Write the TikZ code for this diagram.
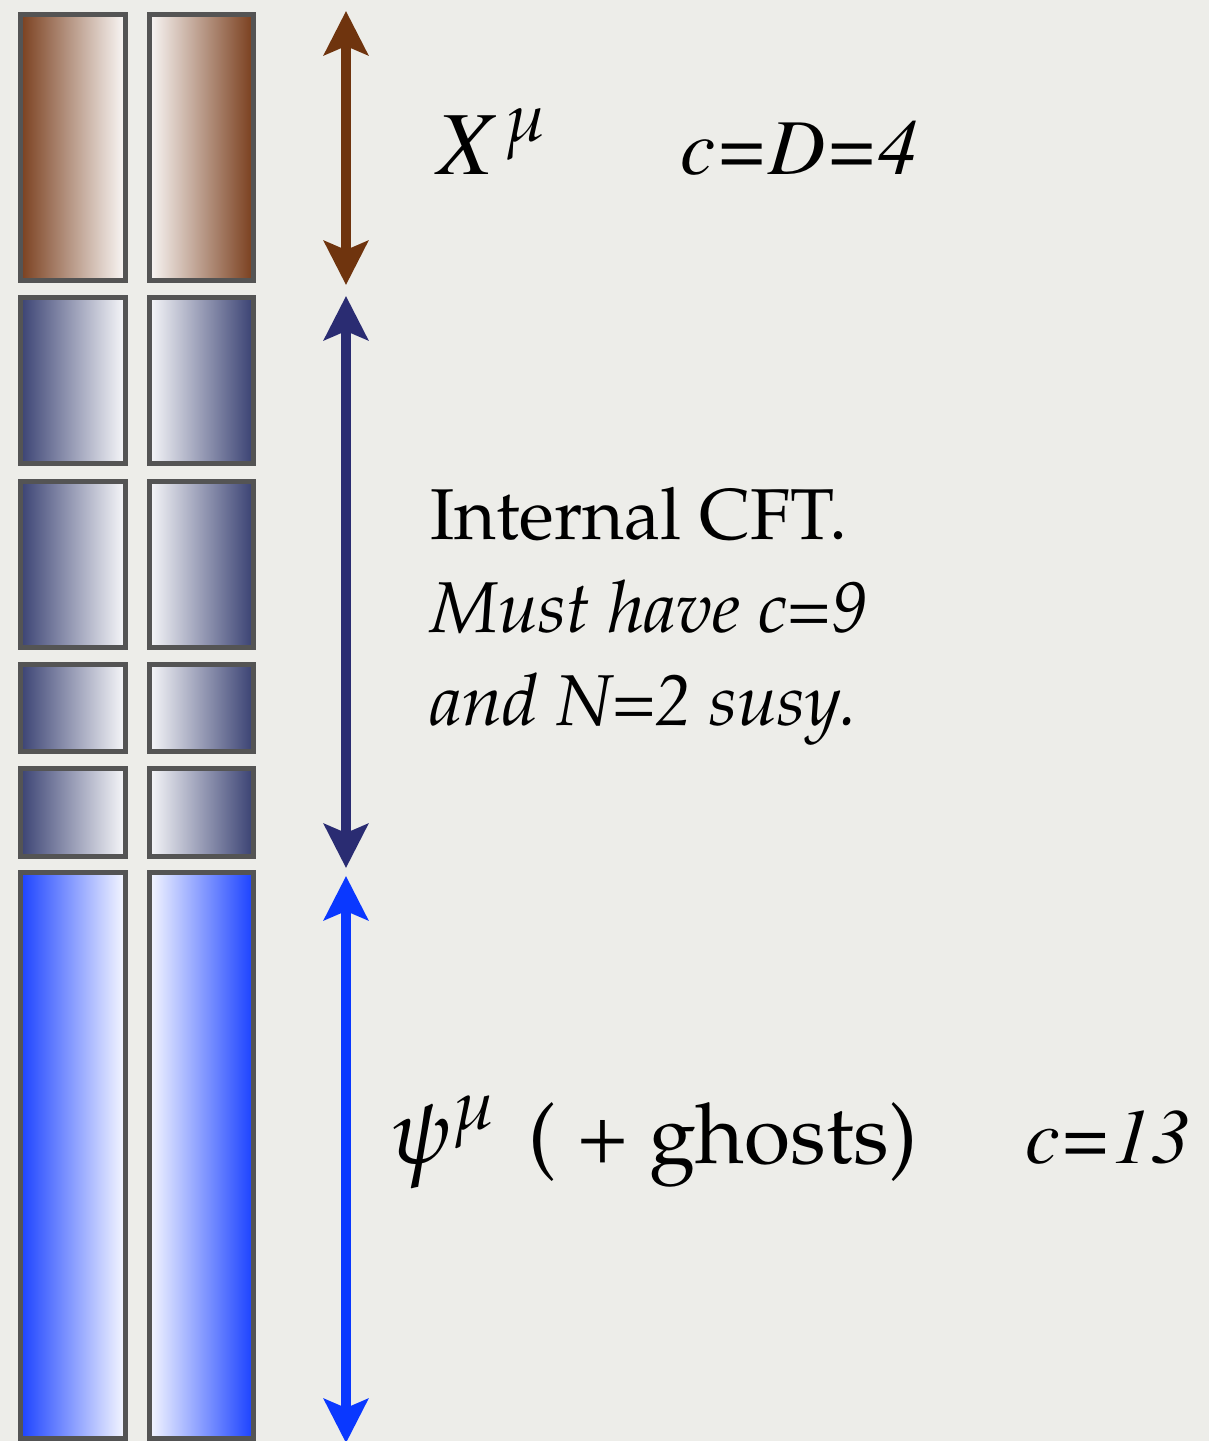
\documentclass[tikz,border=0pt]{standalone}
\usepackage[T1]{fontenc}
\usepackage{mathpazo}
\usepackage{xcolor}
\usepackage{tikz}
\usetikzlibrary{arrows.meta,positioning,calc}
\definecolor{cftpaper}{HTML}{EDEDE9}
\definecolor{cftframe}{HTML}{545454}
\definecolor{cftbrown}{HTML}{7A3F1E}
\definecolor{cftnavy}{HTML}{3A4273}
\definecolor{cftblue}{HTML}{1B42FF}
\definecolor{cftarrbrown}{HTML}{6F340E}
\definecolor{cftarrnavy}{HTML}{2A2C72}
\definecolor{cftarrblue}{HTML}{0A38FF}
\newcommand{\timesit}{\fontfamily{ptm}\itshape}
\tikzset{
  cftcellL/.style={draw=cftframe,line width=5pt,inner sep=0pt,minimum width=105pt,left color=#1,right color=#1!4!white},
  cftcellR/.style={draw=cftframe,line width=5pt,inner sep=0pt,minimum width=104pt,left color=#1!4!white,right color=#1},
  cftspan/.style={{Stealth[length=44pt,width=44pt,inset=9pt]}-{Stealth[length=44pt,width=44pt,inset=9pt]},line width=10pt,draw=#1},
  cfttext/.style={anchor=base west,inner sep=0pt,text=black}
}

\begin{document}
\begin{tikzpicture}[x=1pt,y=-1pt]
\fill[cftpaper] (0,0) rectangle (1209,1441);
\useasboundingbox (0,0) rectangle (1209,1441);
% the two columns of cells
\foreach \t/\b/\c [count=\i] in {14/280/cftbrown,297/463/cftnavy,481/647/cftnavy,664/751/cftnavy,768/856/cftnavy,872/1438/cftblue}{
  \node[cftcellL=\c,minimum height={\b-\t}] (l\i) at (72.5,{(\t+\b)/2}) {};
  \node[cftcellR=\c,minimum height={\b-\t}] (r\i) at (201,{(\t+\b)/2}) {};
}
% ends of the spans
\coordinate (xtop) at (346,11);
\coordinate (xbot) at (346,285);
\coordinate (itop) at (346,296);
\coordinate (ibot) at (346,868);
\coordinate (ptop) at (346,876);
\coordinate (pbot) at (346,1443);
\draw[cftspan=cftarrbrown] (xtop) -- (xbot);
\draw[cftspan=cftarrnavy] (itop) -- (ibot);
\draw[cftspan=cftarrblue] (ptop) -- (pbot);
% labels
\node[cfttext,font=\fontsize{90}{90}\selectfont] (xlab) at (437,174) {{\timesit X}\kern12pt$^{\mu}$};
\node[cfttext,font=\fontsize{79}{90}\selectfont] (xc) at (680,174) {\timesit c=D=4};
\node[cfttext,font=\fontsize{72}{93}\selectfont] (int1) at (430,539) {Internal CFT.};
\node[cfttext,font=\fontsize{72}{93}\selectfont\itshape] (int2) at (430,632) {Must have c=9};
\node[cfttext,font=\fontsize{72}{93}\selectfont\itshape] (int3) at (430,725) {and N=2 susy.};
\node[cfttext,font=\fontsize{92}{90}\selectfont] (ppsi) at (390,1163) {$\psi^{\mu}$};
\node[cfttext,font=\fontsize{84}{90}\selectfont] (plab) at (528,1163) {( + ghosts)};
\node[cfttext,font=\fontsize{78}{90}\selectfont] (pc) at (1025,1163) {\timesit c=13};
\end{tikzpicture}
\end{document}
